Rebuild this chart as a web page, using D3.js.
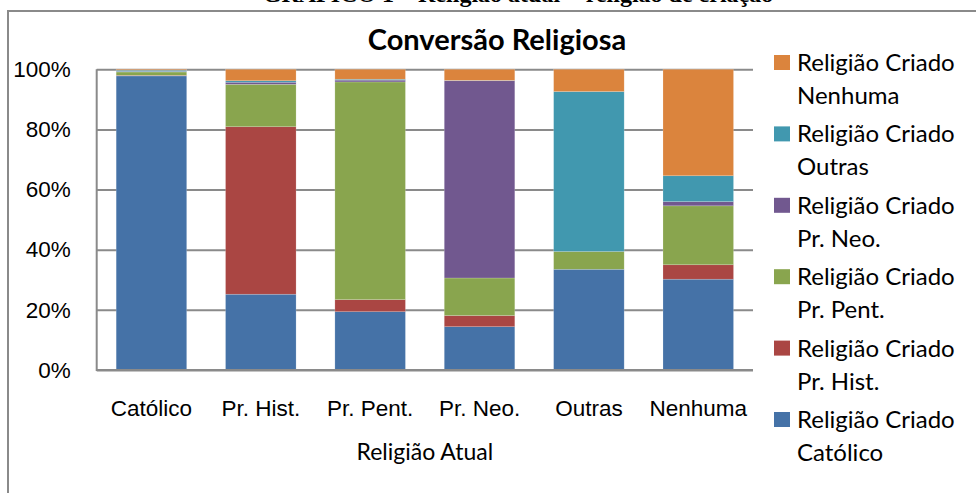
<!DOCTYPE html>
<meta charset="utf-8">
<style>

body {
  margin: 0;
  background: #fff;
}

svg {
  display: block;
  font-family: Lato, "Open Sans", sans-serif;
}

.axis path {
  display: none;
}

.grid line {
  stroke: #8a8a8a;
  stroke-width: 2px;
}

.tick text {
  fill: #000;
  font-size: 22.5px;
}

.title {
  font-weight: bold;
  font-size: 29px;
  text-anchor: middle;
}

.legend text {
  font-size: 24px;
}

</style>
<body>
<script src="https://cdn.jsdelivr.net/npm/d3@7"></script>
<script>

// religião atual (eixo x)
var categories = ["Católico", "Pr. Hist.", "Pr. Pent.", "Pr. Neo.", "Outras", "Nenhuma"];

// religião em que foi criado, % de cada religião atual
var seriesNames = ["Religião Criado Católico", "Religião Criado Pr. Hist.", "Religião Criado Pr. Pent.",
                   "Religião Criado Pr. Neo.", "Religião Criado Outras", "Religião Criado Nenhuma"];
var criadoCatolico = [97.8, 25.2, 19.4, 14.4, 33.5, 30.2];
var criadoPrHist   = [0.2, 55.7, 4.0, 3.7, 0.0, 4.8];
var criadoPrPent   = [1.1, 14.1, 72.4, 12.5, 5.9, 19.6];
var criadoPrNeo    = [0.2, 0.7, 0.6, 65.6, 0.0, 1.4];
var criadoOutras   = [0.4, 0.5, 0.3, 0.1, 53.2, 8.6];
var criadoNenhuma  = [0.3, 3.8, 3.3, 3.7, 7.4, 35.4];

var yTicks = [0, 0.2, 0.4, 0.6, 0.8, 1];

var colors = ["#4572A7", "#AA4643", "#89A54E", "#71588F", "#4198AF", "#DB843D"];

var seriesValues = [criadoCatolico, criadoPrHist, criadoPrPent, criadoPrNeo, criadoOutras, criadoNenhuma];

var rows = categories.map(function(c, i) {
  var r = {cat: c};
  seriesNames.forEach(function(s, j) { r[s] = seriesValues[j][i]; });
  return r;
});

var width = 976, height = 493;
var plot = {left: 96.7, right: 753, top: 69.3, bottom: 370};

var svg = d3.select("body").append("svg")
    .attr("width", width)
    .attr("height", height);

// outer frame of the chart area
svg.append("path")
    .attr("d", "M8,493V11H976")
    .attr("fill", "none")
    .attr("stroke", "#8a8a8a")
    .attr("stroke-width", 2);

// heading above the chart, mostly cut off by the top edge
svg.append("text")
    .attr("x", 518)
    .attr("y", 2)
    .attr("text-anchor", "middle")
    .style("font-family", "'Liberation Serif', serif")
    .style("font-weight", "bold")
    .style("font-size", "24px")
    .text("GRÁFICO 1 – Religião atual × religião de criação");

var x = d3.scaleBand()
    .domain(categories)
    .range([plot.left, plot.right])
    .paddingInner(0.355)
    .paddingOuter(0.178);

var y = d3.scaleLinear()
    .domain([0, 1])
    .range([plot.bottom, plot.top]);

var color = d3.scaleOrdinal()
    .domain(seriesNames)
    .range(colors);

var stack = d3.stack()
    .keys(seriesNames)
    .offset(d3.stackOffsetExpand);

var layers = stack(rows);

// gridlines + y labels
svg.append("g")
    .attr("class", "axis grid")
    .attr("transform", "translate(" + plot.left + ",0)")
    .call(d3.axisLeft(y)
        .tickValues(yTicks)
        .tickFormat(d3.format(".0%"))
        .tickSize(-(plot.right - plot.left))
        .tickPadding(26));

svg.append("g")
    .selectAll("g")
    .data(layers)
  .enter().append("g")
    .attr("fill", function(d) { return color(d.key); })
  .selectAll("rect")
    .data(function(d) { return d; })
  .enter().append("rect")
    .attr("x", function(d) { return x(d.data.cat); })
    .attr("width", x.bandwidth())
    .attr("y", function(d) { return y(d[1]); })
    .attr("height", function(d) { return y(d[0]) - y(d[1]); })
    .attr("stroke", "rgba(255,255,255,0.3)")
    .attr("stroke-width", 0.6);

// y axis line and x axis
svg.append("line")
    .attr("x1", plot.left).attr("x2", plot.left)
    .attr("y1", plot.top).attr("y2", plot.bottom + 1)
    .attr("stroke", "#8a8a8a")
    .attr("stroke-width", 2);

svg.append("g")
    .attr("class", "axis")
    .attr("transform", "translate(0," + plot.bottom + ")")
    .call(d3.axisBottom(x).tickSize(0).tickPadding(30))
  .append("line")
    .attr("x1", plot.left).attr("x2", plot.right)
    .attr("stroke", "#8a8a8a")
    .attr("stroke-width", 2);

svg.append("text")
    .attr("x", (plot.left + plot.right) / 2)
    .attr("y", 460)
    .attr("text-anchor", "middle")
    .style("font-size", "23px")
    .text("Religião Atual");

svg.append("text")
    .attr("class", "title")
    .attr("x", 497)
    .attr("y", 50)
    .text("Conversão Religiosa");

// legend, last series on top
var legend = svg.append("g")
    .attr("class", "legend")
  .selectAll("g")
    .data(seriesNames.slice().reverse())
  .enter().append("g")
    .attr("transform", function(d, i) { return "translate(774," + (55 + i * 71.4) + ")"; });

legend.append("rect")
    .attr("width", 16)
    .attr("height", 15)
    .attr("fill", color);

var lt = legend.append("text")
    .attr("x", 23)
    .attr("y", 16);

lt.append("tspan")
    .attr("x", 23)
    .text("Religião Criado");

lt.append("tspan")
    .attr("x", 23)
    .attr("dy", 33)
    .text(function(d) { return d.replace("Religião Criado ", ""); });

</script>
</body>
